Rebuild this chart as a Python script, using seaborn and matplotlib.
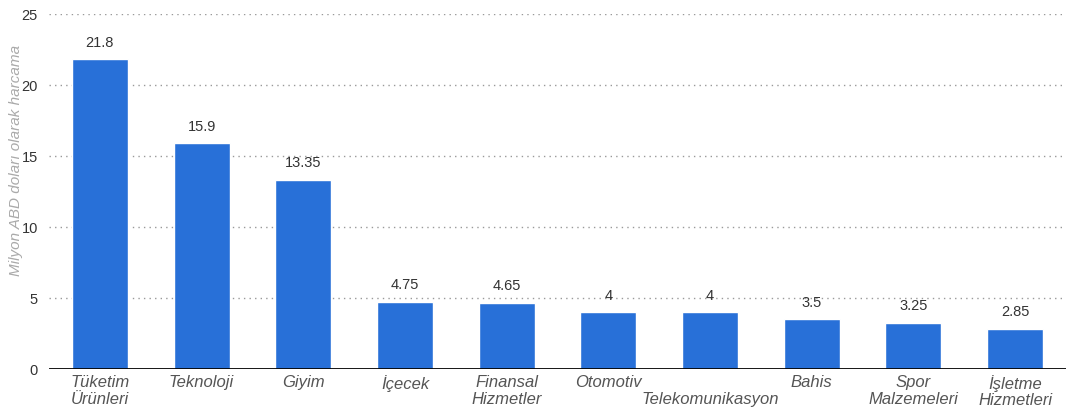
import matplotlib
matplotlib.use("Agg")
import matplotlib.pyplot as plt
import seaborn as sns
import pandas as pd

categories = ["Tüketim\nÜrünleri", "Teknoloji", "Giyim", "İçecek", "Finansal\nHizmetler",
              "Otomotiv", "\nTelekomunikasyon", "Bahis", "Spor\nMalzemeleri", "İşletme\nHizmetleri"]
values = [21.8, 15.9, 13.35, 4.75, 4.65, 4.0, 4.0, 3.5, 3.25, 2.85]
value_labels = ["21.8", "15.9", "13.35", "4.75", "4.65", "4", "4", "3.5", "3.25", "2.85"]
y_ticks = [0, 5, 10, 15, 20, 25]

df = pd.DataFrame({"kategori": categories, "harcama": values})

sns.set_theme(style="white")
plt.rcParams["font.family"] = ["Liberation Sans", "DejaVu Sans"]

fig = plt.figure(figsize=(10.67, 4.12), dpi=100)
ax = fig.add_axes([0.046, 0.104, 0.953, 0.862])

sns.barplot(data=df, x="kategori", y="harcama", color="#2870D8", saturation=1,
            width=0.55, ax=ax, zorder=3)

ax.set_ylim(0, 25)
ax.set_xlim(-0.5, len(categories) - 0.5)
ax.set_yticks(y_ticks)
ax.set_yticklabels([str(t) for t in y_ticks], fontsize=10.5, color="#333333")
ax.tick_params(axis="y", length=0, pad=8)
ax.tick_params(axis="x", length=0, pad=4)
for lbl in ax.get_xticklabels():
    lbl.set_fontsize(12)
    lbl.set_fontstyle("italic")
    lbl.set_color("#555555")
    lbl.set_linespacing(1.15)

for t in y_ticks[1:]:
    ax.axhline(t, color="#999999", linestyle=(0, (1, 3)), linewidth=1, zorder=1)
ax.axhline(0, color="black", linewidth=2, zorder=4)

for i, (v, s) in enumerate(zip(values, value_labels)):
    ax.annotate(s, (i, v), xytext=(0, 7), textcoords="offset points",
                ha="center", va="bottom", fontsize=10.5, color="#333333", zorder=5)

ax.set_xlabel("")
ax.set_ylabel("Milyon ABD doları olarak harcama", fontsize=11, fontstyle="italic",
              color="#aaaaaa")
ax.yaxis.set_label_coords(-0.0256, 0.589)
for side in ["top", "right", "left", "bottom"]:
    ax.spines[side].set_visible(False)

fig.savefig("out.png", dpi=100)
